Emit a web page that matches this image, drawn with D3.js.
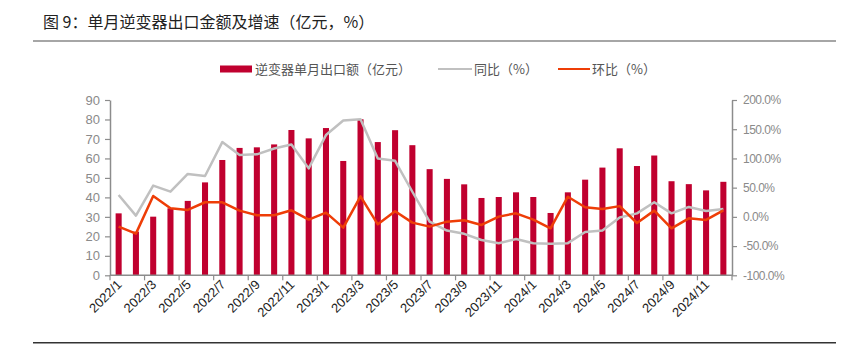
<!DOCTYPE html>
<html><head><meta charset="utf-8">
<script src="https://cdn.jsdelivr.net/npm/d3@7"></script>
<style>body{margin:0;background:#fff;}svg{display:block;}</style>
</head><body>
<svg id="c" width="854" height="351"></svg>
<script>
const months = [];
for (const y of [2022, 2023, 2024]) for (let m = 1; m <= 12; m++) months.push(y + "/" + m);
const exportValue = [31.8,22.4,30.1,34.4,38.2,47.7,59.2,65.4,65.7,67.2,74.6,70.3,
                     75.6,58.7,80.1,68.4,74.5,66.8,54.5,49.5,46.7,39.7,40.2,42.6,
                     40.2,32.0,42.6,49.1,55.3,65.2,56.1,61.5,48.3,46.8,43.6,48.0];
const yoy = [37.5,2.1,53.5,43.2,73.4,70,128,106,107,117,124,83,
             140,165,167,100,96,43,-8,-23.5,-29,-39.5,-45,-38,
             -45,-46,-45,-26,-23.5,-1,6,25,6,17,10,13.5];
const mom = [-16.7,-28.7,35.8,14.7,11.8,25,25,10.7,2.7,2.7,11.2,-4.7,
             7.2,-18.5,35.2,-12.7,9.5,-9.9,-16.7,-8.2,-5.9,-13.8,0.4,6.1,
             -4.7,-19.6,34.5,16.4,13.5,18.4,-10.5,10.7,-19.6,-2.5,-5.3,11.2];
const leftTicks = [0,10,20,30,40,50,60,70,80,90];
const rightTicks = [-100,-50,0,50,100,150,200];
const title = "图 9：单月逆变器出口金额及增速（亿元，%）";
const legendNames = ["逆变器单月出口额（亿元）", "同比（%）", "环比（%）"];

const svg = d3.select("#c");
const L = 110, R = 732, T = 100, B = 275.3;
const numFont = "'Liberation Sans', Arial, sans-serif";
const cjkFont = "'Noto Sans CJK SC', sans-serif";
const axisColor = "#8c8c8c";

const x = d3.scaleBand().domain(months).range([L, R]).paddingInner(0.65).paddingOuter(0.325);
const yL = d3.scaleLinear().domain([0, 90]).range([B, T]);
const yR = d3.scaleLinear().domain([-100, 200]).range([B, T]);
const cx = m => x(m) + x.bandwidth() / 2;

// title
svg.append("text").attr("x", 43).attr("y", 28).attr("font-family", cjkFont)
  .attr("font-size", 16).attr("fill", "#222").text(title);
svg.append("line").attr("x1", 33).attr("x2", 836).attr("y1", 41).attr("y2", 41)
  .attr("stroke", "#888").attr("stroke-width", 1.5);
svg.append("line").attr("x1", 33).attr("x2", 836).attr("y1", 342.7).attr("y2", 342.7)
  .attr("stroke", "#333").attr("stroke-width", 1.5);

// legend
const lg = svg.append("g").attr("font-family", cjkFont).attr("font-size", 13).attr("fill", "#555");
lg.append("rect").attr("x", 220).attr("y", 65.5).attr("width", 32).attr("height", 7).attr("fill", "#C0002F");
lg.append("text").attr("x", 255).attr("y", 73.5).text(legendNames[0]);
lg.append("line").attr("x1", 438).attr("x2", 472).attr("y1", 69).attr("y2", 69).attr("stroke", "#C0C0C0").attr("stroke-width", 2);
lg.append("text").attr("x", 474).attr("y", 73.5).text(legendNames[1]);
lg.append("line").attr("x1", 558).attr("x2", 590).attr("y1", 69).attr("y2", 69).attr("stroke", "#EE3D07").attr("stroke-width", 2);
lg.append("text").attr("x", 592).attr("y", 73.5).text(legendNames[2]);

// bars
svg.append("g").selectAll("rect").data(months).join("rect")
  .attr("x", d => x(d)).attr("width", x.bandwidth())
  .attr("y", (d, i) => yL(exportValue[i])).attr("height", (d, i) => yL(0) - yL(exportValue[i]))
  .attr("fill", "#C0002F");

// lines
const line = d3.line().x((d, i) => cx(months[i])).y(d => yR(d));
svg.append("path").datum(yoy).attr("d", line).attr("fill", "none")
  .attr("stroke", "#C0C0C0").attr("stroke-width", 2.5).attr("stroke-linejoin", "round");
svg.append("path").datum(mom).attr("d", line).attr("fill", "none")
  .attr("stroke", "#EE3D07").attr("stroke-width", 2.5).attr("stroke-linejoin", "round");

// left axis
const la = svg.append("g").attr("transform", `translate(${L},0)`)
  .call(d3.axisLeft(yL).tickValues(leftTicks).tickSize(5).tickPadding(5).tickSizeOuter(0));
la.select(".domain").attr("stroke", axisColor).attr("stroke-width", 1.5);
la.selectAll(".tick line").attr("stroke", axisColor).attr("stroke-width", 1.2);
la.selectAll("text").attr("font-family", numFont).attr("font-size", 13).attr("fill", "#8a8a8a");

// right axis
const ra = svg.append("g").attr("transform", `translate(${R},0)`)
  .call(d3.axisRight(yR).tickValues(rightTicks).tickSize(5).tickPadding(6).tickSizeOuter(0)
    .tickFormat(d => d.toFixed(1) + "%"));
ra.select(".domain").attr("stroke", axisColor).attr("stroke-width", 1.5);
ra.selectAll(".tick line").attr("stroke", axisColor).attr("stroke-width", 1.2);
ra.selectAll("text").attr("font-family", numFont).attr("font-size", 12).attr("fill", "#8a8a8a").attr("letter-spacing", "-0.5px");

// x axis
const xg = svg.append("g");
xg.append("line").attr("x1", L).attr("x2", R).attr("y1", B).attr("y2", B)
  .attr("stroke", axisColor).attr("stroke-width", 1.5);
const step = x.step();
const bounds = months.filter((d, i) => i % 2 === 0).map(d => x(d) - (step - x.bandwidth()) / 2);
bounds.push(R);
xg.selectAll("line.tk").data(bounds).join("line").attr("class", "tk")
  .attr("x1", d => d).attr("x2", d => d).attr("y1", B).attr("y2", B + 5)
  .attr("stroke", axisColor).attr("stroke-width", 1.2);
xg.selectAll("text").data(months.filter((d, i) => i % 2 === 0)).join("text")
  .attr("transform", d => `translate(${cx(d) + 4},${B + 10}) rotate(-45)`)
  .attr("text-anchor", "end").attr("font-family", numFont).attr("font-size", 13)
  .attr("fill", "#222").text(d => d);
</script>
</body></html>
